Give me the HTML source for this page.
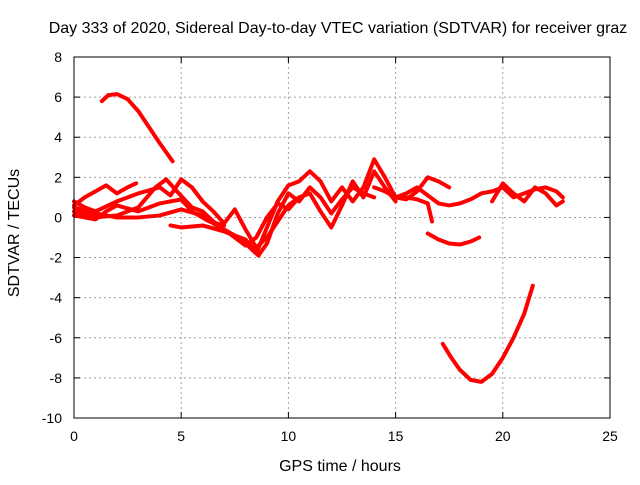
<!DOCTYPE html>
<html><head><meta charset="utf-8"><style>
body{margin:0;background:#fff}
svg text{font-family:"Liberation Sans",sans-serif;font-size:14px;fill:#000}
svg text.big{font-size:16px}
</style></head><body>
<svg id="chart" width="640" height="480" viewBox="0 0 640 480" xmlns="http://www.w3.org/2000/svg">
<text class="big" x="338" y="33" text-anchor="middle">Day 333 of 2020, Sidereal Day-to-day VTEC variation (SDTVAR) for receiver graz</text>
<g id="grid"></g>
<g id="ticks"></g>
<g id="series"></g>
<rect x="74" y="57" width="536" height="361" fill="none" stroke="#000" stroke-width="1"/>
<text class="big" x="340" y="471" text-anchor="middle">GPS time / hours</text>
<text class="big" transform="translate(19,233) rotate(-90)" text-anchor="middle">SDTVAR / TECUs</text>
</svg>
<script>
const xTicks=[0,5,10,15,20,25];
const yTicks=[8,6,4,2,0,-2,-4,-6,-8,-10];
const s1=[[1.3,5.8],[1.6,6.1],[2.0,6.15],[2.5,5.9],[3.0,5.3],[3.5,4.5],[4.0,3.7],[4.6,2.8]];
const s2=[[17.2,-6.3],[17.6,-7.0],[18.0,-7.6],[18.5,-8.1],[19.0,-8.2],[19.5,-7.8],[20.0,-7.0],[20.5,-6.0],[21.0,-4.8],[21.4,-3.4]];
const s3=[[16.5,-0.8],[17.0,-1.1],[17.5,-1.3],[18.0,-1.35],[18.5,-1.2],[18.9,-1.0]];
const s4=[[0,0.6],[0.5,1.0],[1.0,1.3],[1.5,1.6],[2.0,1.2],[2.5,1.5],[2.9,1.7]];
const s5=[[0,0.3],[1,0.0],[2,0.1],[3,0.5],[3.8,1.5],[4.3,1.9],[4.8,1.3],[5.5,0.5],[6,0.3],[6.5,-0.2],[7,-0.6],[7.5,-0.9],[8,-1.3],[8.5,-1.8],[9,-0.5],[9.5,0.8],[10,1.6],[10.5,1.8],[11,2.3],[11.5,1.8],[12,0.8],[12.5,1.5],[13,0.8],[13.5,1.5],[14,2.9],[14.5,2.0],[15,1.0],[15.5,0.9],[16,1.3],[16.5,2.0],[17,1.8],[17.5,1.5]];
const s6=[[0,0.8],[0.5,0.5],[1,0.3],[2,0.8],[3,1.2],[4,1.5],[4.5,1.1],[5,1.9],[5.5,1.5],[6,0.8],[6.5,0.3],[7,-0.3],[7.5,0.4],[8,-0.6],[8.5,-1.5],[9,-1.0],[9.5,-0.2],[10,0.6],[10.5,1.0],[11,1.2],[11.5,0.3],[12,-0.5],[12.5,0.6],[13,1.8],[13.5,1.0],[14,2.3],[14.5,1.5],[15,0.8]];
const s7=[[4.5,-0.4],[5,-0.5],[6,-0.4],[7,-0.7],[8,-1.1],[8.6,-1.9],[9,-1.3],[9.5,0.2],[10,1.2],[10.5,0.8],[11,1.5],[11.5,1.0],[12,0.2],[12.5,0.9],[13,1.5],[13.5,1.2],[14,1.0]];
const s8=[[0,0.5],[1,0.2],[2,0.0],[3,0.0],[4,0.1],[5,0.4],[6,0.1],[6.5,-0.3],[7,-0.6],[8,-1.4],[8.5,-1.0],[9,0.0],[9.5,0.7],[10,0.4],[10.5,1.0]];
const s9=[[15,1.0],[15.5,1.2],[16,1.5],[16.5,1.1],[17,0.7],[17.5,0.6],[18,0.7],[18.5,0.9],[19,1.2],[19.5,1.3],[20,1.5],[20.5,1.0],[21,1.2],[21.5,1.4],[22,1.5],[22.5,1.3],[22.8,1.0]];
const s10=[[19.5,0.8],[20,1.7],[20.5,1.2],[21,0.8],[21.5,1.5],[22,1.2],[22.5,0.6],[22.8,0.8]];
const s11=[[14,1.5],[14.5,1.3],[15,1.0],[15.5,1.0],[16,0.9],[16.5,0.7],[16.7,-0.2]];
const s12=[[0,0.1],[0.5,0.0],[1,-0.1],[1.5,0.3],[2,0.6],[3,0.3],[4,0.7],[5,0.9],[5.5,0.3],[6.3,-0.2],[7,-0.4]];
const allSeries=[s1,s2,s3,s4,s5,s6,s7,s8,s9,s10,s11,s12];
const X0=74,X1=610,Y0=418,Y1=57;
const xs=v=>X0+(v-0)/(25-0)*(X1-X0);
const ys=v=>Y0-(v+10)/(18)*(Y0-Y1);
const NS="http://www.w3.org/2000/svg";
const grid=document.getElementById('grid'),ticks=document.getElementById('ticks'),ser=document.getElementById('series');
function mk(t,a,p){const e=document.createElementNS(NS,t);for(const k in a)e.setAttribute(k,a[k]);p.appendChild(e);return e;}
xTicks.forEach(v=>{const x=xs(v);
 if(v>0&&v<25){const g=mk('line',{x1:x,x2:x,y1:Y1,y2:Y0,stroke:'#a0a0a0','stroke-dasharray':'2,3'},grid);
 
 }
 mk('line',{x1:x,x2:x,y1:Y0,y2:Y0-6,stroke:'#000'},ticks);
 mk('line',{x1:x,x2:x,y1:Y1,y2:Y1+6,stroke:'#000'},ticks);
 const t=mk('text',{x:x,y:Y0+23,'text-anchor':'middle'},ticks);t.textContent=v;
 
 });
yTicks.forEach(v=>{const y=ys(v);
 if(v>-10&&v<8){const g=mk('line',{x1:X0,x2:X1,y1:y,y2:y,stroke:'#a0a0a0','stroke-dasharray':'2,3'},grid);
 
 }
 mk('line',{x1:X0,x2:X0+6,y1:y,y2:y,stroke:'#000'},ticks);
 mk('line',{x1:X1,x2:X1-6,y1:y,y2:y,stroke:'#000'},ticks);
 const t=mk('text',{x:X0-12,y:y+5,'text-anchor':'end'},ticks);t.textContent=v;
 
 });
allSeries.forEach((s,i)=>{
 const p=mk('polyline',{points:s.map(d=>xs(d[0])+','+ys(d[1])).join(' '),fill:'none',stroke:'#ff0000','stroke-width':4,'stroke-linejoin':'round','stroke-linecap':'round'},ser);
 
 });
</script>
</body></html>
